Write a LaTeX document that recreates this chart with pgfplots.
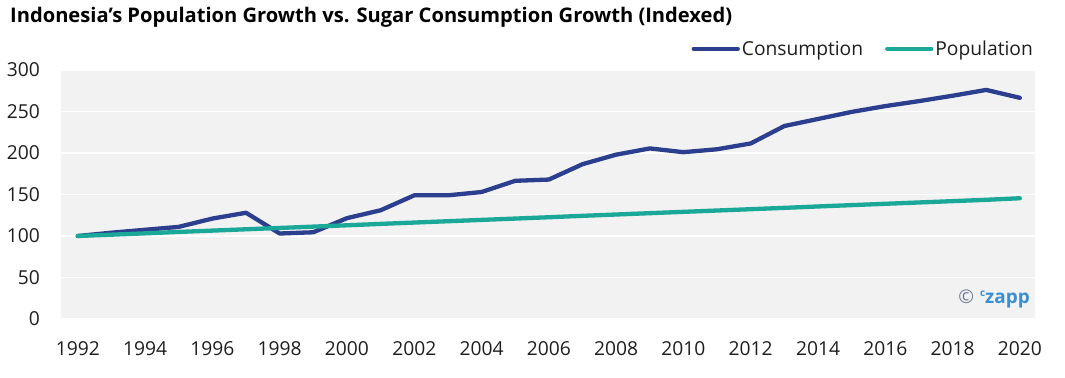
\documentclass[border=0pt]{standalone}
\usepackage{fontspec}
\setmainfont{Open Sans}
\usepackage{pgfplots}
\pgfplotsset{compat=1.18}
\definecolor{bggray}{HTML}{F2F2F2}
\definecolor{cons}{HTML}{2B3F8E}
\definecolor{popc}{HTML}{1AA899}
\definecolor{ticktext}{HTML}{1E1E1E}
\definecolor{czblue}{HTML}{3A8FD3}
\definecolor{czgray}{HTML}{6F7795}
\begin{document}
\begin{tikzpicture}
\begin{axis}[
  name=ax,
  scale only axis,
  width=974bp, height=249bp,
  xmin=1991.5, xmax=2020.45,
  ymin=0, ymax=300,
  axis background/.style={fill=bggray},
  axis line style={draw=none},
  major tick length=0pt,
  xtick={1992,1994,...,2020},
  ytick={0,50,...,300},
  ymajorgrids,
  grid style={white, line width=1.5bp},
  /pgf/number format/1000 sep={},
  /pgf/number format/assume math mode=true,
  tick label style={font=\fontsize{19.3}{22}\selectfont, text=ticktext, inner sep=0pt},
  yticklabel style={anchor=east, xshift=-21bp},
  xticklabel style={anchor=north, yshift=-22bp},
  legend style={at={(rel axis cs:1,1)}, anchor=south east, draw=none, fill=none,
    inner sep=0pt, yshift=11bp, font=\fontsize{19.3}{22}\selectfont, text=ticktext,
    legend columns=2, /tikz/every even column/.append style={column sep=20bp},
    legend cell align=left},
  legend image code/.code={\draw[#1, line width=4.3bp] (0bp,0bp) -- (44bp,0bp);},
  clip=false,
]
\addplot[cons, line width=4.3bp, line join=round, line cap=round] coordinates {
(1992,100) (1993,104) (1994,107.5) (1995,111) (1996,121) (1997,128) (1998,103)
(1999,104.5) (2000,121.5) (2001,131) (2002,149) (2003,149) (2004,153) (2005,166.5)
(2006,168) (2007,186.5) (2008,198) (2009,205.5) (2010,201) (2011,204.5) (2012,211.5)
(2013,232.5) (2014,241) (2015,249.5) (2016,256.5) (2017,262.5) (2018,269) (2019,276)
(2020,266.5)};
\addlegendentry{Consumption}
\addplot[popc, line width=4.3bp, line join=round, line cap=round] coordinates {
(1992,100) (1993,101.6) (1994,103.2) (1995,104.9) (1996,106.5) (1997,108.1) (1998,109.7)
(1999,111.3) (2000,112.9) (2001,114.6) (2002,116.2) (2003,117.8) (2004,119.4) (2005,121.0)
(2006,122.6) (2007,124.3) (2008,125.9) (2009,127.5) (2010,129.1) (2011,130.7) (2012,132.3)
(2013,133.9) (2014,135.6) (2015,137.2) (2016,138.8) (2017,140.4) (2018,142.0) (2019,143.6)
(2020,145.5)};
\addlegendentry{Population}
\node[anchor=south east, inner sep=0pt, font=\fontsize{19}{21}\selectfont] at ([shift={(-5bp,11bp)}]rel axis cs:1,0)
  {{\color{czgray}\textcopyright}\hspace{6bp}{\color{czblue}\bfseries\raisebox{0.35em}{\fontsize{10}{11}\selectfont c}zapp}};
\end{axis}
\node[anchor=base west, inner sep=0pt, font=\fontsize{20.2}{23}\selectfont\bfseries, text=black]
  at ([shift={(-51bp,48bp)}]ax.north west) {Indonesia’s Population Growth vs. Sugar Consumption Growth (Indexed)};
\pgfresetboundingbox
\path ([shift={(-61bp,-59bp)}]ax.south west) rectangle ([shift={(30bp,70bp)}]ax.north east);
\end{tikzpicture}
\end{document}
